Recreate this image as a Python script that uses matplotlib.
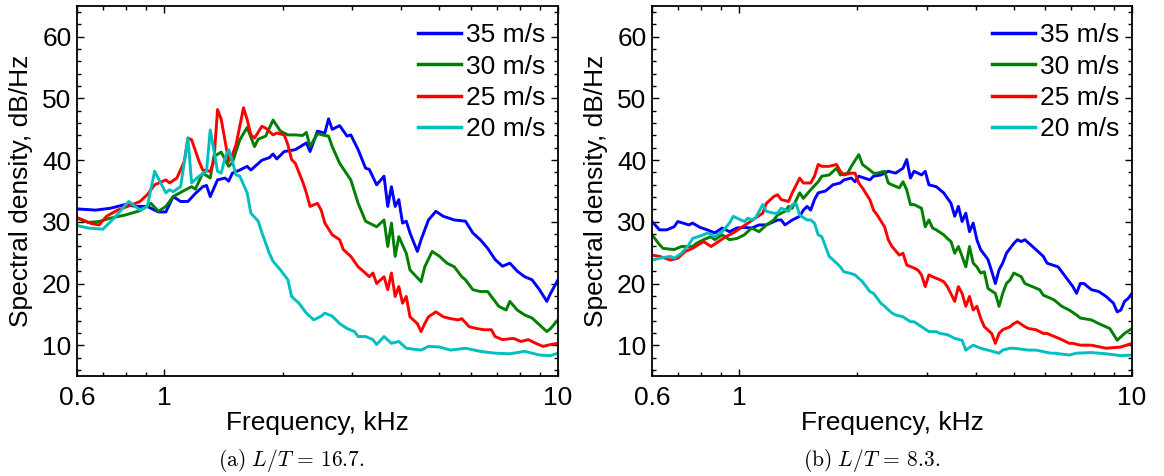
import matplotlib
matplotlib.use("Agg")
import matplotlib.pyplot as plt
from matplotlib.ticker import FixedLocator, NullFormatter, MultipleLocator

plt.rcParams['font.family'] = ['Liberation Sans', 'DejaVu Sans']
plt.rcParams['mathtext.fontset'] = 'cm'

labels = ['35 m/s', '30 m/s', '25 m/s', '20 m/s']
colors = ['#0000ff', '#007f00', '#ff0000', '#00bfbf']

# ---------------- Panel (a)  L/T = 16.7 ----------------
a35_f = [0.600, 0.669, 0.729, 0.795, 0.848, 0.905, 0.966, 1.009, 1.053, 1.100, 1.148, 1.199, 1.252, 1.280,
         1.308, 1.365, 1.426, 1.457, 1.489, 1.555, 1.623, 1.659, 1.770, 1.848, 1.889, 1.930, 2.016, 2.151,
         2.295, 2.345, 2.449, 2.557, 2.613, 2.670, 2.788, 2.912, 2.976, 3.107, 3.245, 3.316, 3.462, 3.615,
         3.694, 3.775, 3.858, 3.942, 4.028, 4.117, 4.207, 4.393, 4.489, 4.687, 4.895, 5.111, 5.454, 5.820,
         6.077, 6.346, 6.627, 6.920, 7.226, 7.545, 7.879, 8.228, 8.592, 8.972, 9.368, 9.573, 10.000]
a35_db = [32.1, 31.9, 32.2, 32.8, 32.5, 32.5, 31.6, 31.6, 34.1, 33.3, 33.3, 34.6, 35.7, 35.9,
          34.1, 36.8, 37.1, 36.6, 37.9, 38.4, 39.0, 38.4, 40.0, 40.4, 41.0, 40.2, 41.4, 41.7,
          42.8, 41.4, 44.7, 44.4, 46.7, 45.0, 45.6, 43.9, 44.1, 41.7, 38.7, 38.5, 36.0, 37.4,
          32.5, 35.7, 32.5, 33.6, 29.8, 30.1, 28.2, 25.2, 27.1, 30.3, 31.7, 30.9, 30.3, 30.1,
          28.2, 27.1, 25.7, 23.9, 22.8, 23.3, 22.0, 21.1, 20.6, 19.0, 17.1, 18.4, 20.6]

a30_f = [0.600, 0.640, 0.683, 0.729, 0.795, 0.867, 0.925, 0.966, 1.009, 1.053, 1.124, 1.173, 1.199, 1.252,
         1.308, 1.336, 1.395, 1.457, 1.489, 1.555, 1.623, 1.695, 1.732, 1.809, 1.889, 1.972, 2.060, 2.151,
         2.246, 2.295, 2.345, 2.449, 2.557, 2.613, 2.670, 2.788, 2.976, 3.107, 3.245, 3.462, 3.615, 3.694,
         3.775, 3.858, 3.942, 4.117, 4.207, 4.489, 4.587, 4.790, 5.002, 5.223, 5.454, 5.695, 5.820, 6.077,
         6.346, 6.627, 6.772, 7.071, 7.384, 7.545, 7.879, 8.228, 8.592, 8.972, 9.368, 9.573, 10.000]
a30_db = [30.6, 29.9, 30.05, 30.6, 31.1, 31.8, 33.0, 31.7, 32.5, 34.1, 35.1, 35.7, 35.3, 37.9,
          37.1, 40.6, 41.3, 39.0, 39.6, 43.3, 45.3, 42.2, 43.4, 43.9, 46.5, 44.7, 44.1, 44.1,
          44.0, 44.5, 42.2, 44.3, 44.0, 43.9, 42.2, 39.5, 36.8, 33.0, 30.1, 29.2, 30.3, 26.0,
          29.8, 24.4, 27.6, 24.9, 22.2, 20.3, 22.7, 25.2, 24.4, 23.3, 22.7, 21.1, 20.6, 19.0,
          18.7, 18.7, 17.9, 16.3, 15.7, 17.1, 15.7, 14.9, 14.4, 13.3, 12.2, 12.7, 14.1]

a25_f = [0.600, 0.654, 0.683, 0.713, 0.761, 0.830, 0.867, 0.905, 0.945, 1.009, 1.031, 1.076, 1.124, 1.148,
         1.173, 1.225, 1.252, 1.308, 1.336, 1.365, 1.395, 1.457, 1.489, 1.521, 1.589, 1.623, 1.659, 1.695,
         1.770, 1.809, 1.889, 1.930, 2.016, 2.060, 2.105, 2.151, 2.246, 2.295, 2.345, 2.449, 2.503, 2.557,
         2.670, 2.788, 2.849, 2.976, 3.107, 3.175, 3.316, 3.388, 3.462, 3.615, 3.694, 3.775, 3.858, 3.942,
         4.028, 4.117, 4.207, 4.393, 4.489, 4.587, 4.687, 4.895, 5.111, 5.337, 5.573, 5.695, 5.947, 6.210,
         6.485, 6.772, 6.920, 7.226, 7.710, 8.051, 8.408, 8.779, 9.168, 9.573, 10.000]
a25_db = [30.7, 29.7, 29.5, 30.9, 31.9, 32.8, 33.3, 34.4, 36.0, 36.8, 36.3, 37.1, 39.8, 43.6,
          43.3, 39.8, 38.4, 38.2, 39.8, 48.2, 46.6, 39.8, 40.9, 42.5, 48.5, 46.6, 44.1, 43.6,
          45.5, 45.2, 44.1, 44.4, 44.1, 42.5, 40.1, 39.5, 36.5, 34.7, 32.5, 33.0, 31.9, 29.8,
          27.9, 27.1, 25.5, 24.4, 22.7, 22.2, 21.1, 21.7, 20.0, 21.1, 19.0, 21.7, 17.9, 19.5,
          16.8, 17.9, 14.6, 13.5, 12.2, 13.5, 14.6, 15.4, 14.6, 14.3, 14.1, 14.3, 13.0, 12.7,
          12.5, 12.5, 11.4, 10.9, 11.1, 10.6, 10.9, 10.3, 9.8, 10.1, 10.3]

a20_f = [0.600, 0.640, 0.698, 0.745, 0.812, 0.867, 0.905, 0.945, 1.009, 1.031, 1.053, 1.100, 1.148, 1.173,
         1.225, 1.280, 1.308, 1.365, 1.395, 1.426, 1.457, 1.489, 1.521, 1.555, 1.623, 1.659, 1.732, 1.770,
         1.848, 1.889, 1.972, 2.060, 2.105, 2.198, 2.295, 2.397, 2.503, 2.557, 2.670, 2.788, 2.912, 3.041,
         3.107, 3.245, 3.388, 3.462, 3.615, 3.775, 3.942, 4.117, 4.489, 4.687, 5.002, 5.337, 5.820, 6.346,
         6.920, 7.545, 8.228, 8.972, 9.573, 10.000]
a20_db = [29.4, 29.0, 28.8, 30.6, 33.3, 31.9, 32.5, 38.2, 34.7, 35.2, 34.9, 35.7, 43.6, 36.3,
          37.4, 38.2, 44.9, 38.2, 37.9, 40.4, 41.7, 39.8, 37.6, 37.4, 34.7, 31.4, 30.1, 28.2,
          24.9, 23.6, 22.2, 20.6, 17.9, 16.8, 15.2, 14.1, 14.7, 15.2, 14.7, 13.5, 12.7, 12.2,
          11.4, 11.4, 10.9, 10.1, 11.4, 10.3, 10.6, 9.5, 9.2, 9.8, 9.7, 9.2, 9.5, 9.0,
          8.7, 8.6, 9.0, 8.4, 8.3, 8.7]

# ---------------- Panel (b)  L/T = 8.3 ----------------
b35_f = [0.600, 0.627, 0.654, 0.683, 0.698, 0.745, 0.761, 0.795, 0.830, 0.867, 0.905, 0.945, 0.987, 1.031,
         1.076, 1.124, 1.173, 1.252, 1.280, 1.308, 1.365, 1.426, 1.457, 1.489, 1.521, 1.555, 1.589, 1.659,
         1.732, 1.809, 1.848, 1.930, 1.972, 2.016, 2.151, 2.198, 2.295, 2.397, 2.503, 2.613, 2.670, 2.729,
         2.788, 2.912, 2.976, 3.041, 3.175, 3.316, 3.462, 3.538, 3.615, 3.694, 3.775, 3.858, 3.942, 4.028,
         4.117, 4.299, 4.393, 4.489, 4.587, 4.687, 4.790, 5.002, 5.111, 5.223, 5.337, 5.695, 5.947, 6.077,
         6.210, 6.485, 6.627, 6.772, 6.920, 7.071, 7.226, 7.384, 7.545, 7.879, 8.228, 8.592, 8.972, 9.168,
         9.368, 9.573, 9.783, 10.000]
b35_db = [30.05, 28.7, 28.7, 29.2, 30.05, 29.5, 29.8, 29.1, 28.7, 28.2, 29.0, 28.4, 29.0, 29.1,
          29.0, 29.5, 29.5, 30.3, 30.3, 29.5, 30.3, 30.9, 31.9, 32.5, 31.9, 33.6, 34.7, 35.0,
          36.0, 36.3, 36.8, 37.1, 36.5, 37.4, 36.8, 37.4, 37.6, 38.2, 37.9, 38.7, 40.1, 37.1,
          38.2, 37.6, 38.2, 36.0, 35.7, 34.7, 33.0, 30.9, 32.5, 30.05, 31.4, 28.4, 29.8, 27.1,
          25.5, 23.9, 22.0, 20.0, 22.2, 23.3, 24.9, 26.5, 27.1, 26.8, 27.1, 25.5, 24.4, 23.3,
          23.1, 22.7, 21.9, 21.1, 20.3, 19.5, 18.4, 20.0, 20.0, 19.0, 18.7, 17.9, 16.8, 15.4,
          15.7, 17.1, 17.6, 18.4]

b30_f = [0.600, 0.627, 0.640, 0.683, 0.713, 0.761, 0.778, 0.812, 0.848, 0.867, 0.905, 0.945, 0.987, 1.031,
         1.076, 1.124, 1.173, 1.225, 1.252, 1.308, 1.336, 1.365, 1.426, 1.457, 1.521, 1.589, 1.623, 1.695,
         1.770, 1.809, 1.889, 1.930, 2.016, 2.060, 2.151, 2.198, 2.246, 2.345, 2.397, 2.449, 2.557, 2.613,
         2.670, 2.729, 2.788, 2.912, 2.976, 3.041, 3.107, 3.175, 3.316, 3.388, 3.462, 3.538, 3.615, 3.694,
         3.775, 3.858, 3.942, 4.028, 4.117, 4.207, 4.299, 4.489, 4.587, 4.687, 4.790, 4.895, 5.002, 5.223,
         5.337, 5.573, 5.820, 5.947, 6.210, 6.346, 6.627, 6.920, 7.226, 7.384, 7.879, 8.228, 8.779, 9.168,
         9.573, 10.000]
b30_db = [27.9, 26.3, 25.7, 25.5, 26.0, 26.0, 26.5, 27.1, 27.6, 27.1, 27.9, 27.1, 27.3, 27.9,
          29.0, 28.4, 29.5, 30.3, 31.1, 31.7, 32.5, 32.2, 34.7, 33.8, 35.2, 36.5, 37.4, 37.6,
          38.7, 37.6, 37.9, 39.0, 40.9, 39.3, 38.4, 37.9, 37.9, 38.2, 36.3, 36.0, 35.5, 36.5,
          35.2, 32.8, 32.8, 32.2, 29.2, 30.3, 29.0, 28.7, 27.9, 27.3, 26.8, 24.9, 26.0, 24.4,
          22.7, 26.0, 23.3, 22.7, 21.7, 21.9, 19.2, 18.4, 16.3, 18.4, 20.0, 20.6, 21.7, 21.1,
          20.0, 19.5, 19.0, 18.1, 17.6, 17.3, 16.3, 15.7, 14.9, 14.4, 14.1, 13.5, 12.7, 10.8,
          11.9, 12.7]

b25_f = [0.600, 0.627, 0.669, 0.698, 0.729, 0.761, 0.812, 0.848, 0.886, 0.925, 0.966, 1.009, 1.053, 1.100,
         1.148, 1.173, 1.225, 1.252, 1.280, 1.336, 1.365, 1.426, 1.457, 1.521, 1.555, 1.589, 1.623, 1.695,
         1.770, 1.809, 1.848, 1.930, 1.972, 2.016, 2.060, 2.151, 2.198, 2.246, 2.345, 2.397, 2.449, 2.557,
         2.613, 2.670, 2.788, 2.849, 2.912, 2.976, 3.041, 3.107, 3.245, 3.316, 3.388, 3.538, 3.615, 3.694,
         3.775, 3.858, 3.942, 4.028, 4.117, 4.207, 4.393, 4.489, 4.587, 4.687, 4.895, 5.002, 5.111, 5.337,
         5.454, 5.695, 5.947, 6.077, 6.346, 6.627, 6.920, 7.071, 7.384, 7.879, 8.592, 9.368, 10.000]
b25_db = [24.6, 24.4, 23.8, 24.1, 25.2, 25.7, 26.8, 26.0, 26.8, 27.6, 28.2, 29.0, 29.8, 30.6,
          31.4, 33.0, 34.1, 34.4, 33.6, 33.3, 34.7, 37.1, 36.3, 36.3, 37.4, 39.3, 39.0, 39.0,
          39.3, 38.2, 37.6, 37.9, 37.9, 36.3, 35.5, 33.6, 31.9, 31.1, 29.2, 27.1, 26.0, 24.6,
          24.9, 23.0, 22.5, 22.2, 21.4, 19.5, 21.4, 21.1, 20.6, 20.3, 19.5, 17.1, 19.5, 18.4,
          16.3, 17.9, 15.7, 16.3, 14.4, 13.0, 11.9, 10.3, 11.9, 12.5, 13.0, 13.5, 13.8, 13.0,
          12.7, 12.5, 11.9, 11.9, 11.4, 10.9, 10.3, 10.3, 10.0, 10.0, 9.5, 9.7, 10.3]

b20_f = [0.600, 0.627, 0.669, 0.683, 0.713, 0.745, 0.761, 0.812, 0.830, 0.867, 0.905, 0.945, 0.966, 0.987,
         1.031, 1.053, 1.076, 1.100, 1.148, 1.173, 1.225, 1.252, 1.280, 1.336, 1.365, 1.395, 1.426, 1.489,
         1.521, 1.555, 1.589, 1.623, 1.659, 1.695, 1.770, 1.809, 1.848, 1.930, 1.972, 2.060, 2.151, 2.198,
         2.295, 2.345, 2.449, 2.503, 2.613, 2.729, 2.788, 2.912, 3.041, 3.175, 3.245, 3.388, 3.538, 3.694,
         3.775, 3.942, 4.117, 4.299, 4.587, 4.687, 4.895, 5.002, 5.454, 5.695, 6.210, 6.346, 6.920, 7.226,
         7.879, 8.592, 9.368, 10.000]
b20_db = [23.8, 24.1, 24.4, 24.1, 24.9, 26.3, 27.3, 27.9, 28.2, 27.6, 28.4, 29.8, 30.9, 30.6,
          30.05, 30.6, 30.3, 30.6, 32.8, 31.7, 31.4, 31.4, 32.2, 31.7, 32.8, 33.0, 31.1, 30.3,
          30.3, 29.8, 27.9, 27.6, 26.0, 24.4, 23.3, 22.7, 21.9, 21.6, 21.4, 20.3, 18.7, 18.4,
          16.8, 16.3, 15.2, 14.9, 14.6, 13.8, 13.8, 13.0, 12.2, 12.2, 11.9, 11.7, 11.1, 10.8,
          9.2, 10.0, 9.5, 9.2, 8.7, 9.2, 9.5, 9.5, 9.2, 9.2, 8.7, 8.7, 8.4, 8.7,
          8.8, 8.6, 8.3, 8.4]

panels = [
    ([(a35_f, a35_db), (a30_f, a30_db), (a25_f, a25_db), (a20_f, a20_db)],
     r'$\mathrm{(a)}\ L/T\,=\,16.7.$'),
    ([(b35_f, b35_db), (b30_f, b30_db), (b25_f, b25_db), (b20_f, b20_db)],
     r'$\mathrm{(b)}\ L/T\,=\,8.3.$'),
]

xticks = [0.6, 1, 10]
xtick_labels = ['0.6', '1', '10']
yticks = [10, 20, 30, 40, 50, 60]

fig = plt.figure(figsize=(11.64, 4.76), dpi=100)
ax_rects = [[77 / 1164, 100 / 476, 481 / 1164, 370 / 476],
            [652 / 1164, 100 / 476, 480 / 1164, 370 / 476]]
cap_x = [291 / 1164, 872 / 1164]
FS = 19

for (series, caption), rect, cx in zip(panels, ax_rects, cap_x):
    ax = fig.add_axes(rect)
    for (f, db), c, lab in zip(series, colors, labels):
        ax.plot(f, db, color=c, lw=2.1, label=lab, solid_joinstyle='round')
    ax.set_xscale('log')
    ax.set_xlim(0.6, 10)
    ax.set_ylim(5, 65)
    ax.xaxis.set_major_locator(FixedLocator(xticks))
    ax.set_xticklabels(xtick_labels)
    ax.xaxis.set_minor_locator(FixedLocator([0.7, 0.8, 0.9, 2, 3, 4, 5, 6, 7, 8, 9]))
    ax.xaxis.set_minor_formatter(NullFormatter())
    ax.set_yticks(yticks)
    ax.yaxis.set_minor_locator(MultipleLocator(2))
    ax.tick_params(which='both', direction='in', top=True, right=True, labelsize=FS, width=1.0)
    ax.tick_params(which='major', length=5)
    ax.tick_params(which='minor', length=3)
    ax.tick_params(axis='x', which='major', pad=7)
    ax.tick_params(axis='y', which='major', pad=4)
    for s in ax.spines.values():
        s.set_linewidth(1.3)
    ax.set_xlabel('Frequency, kHz', fontsize=FS)
    ax.set_ylabel('Spectral density, dB/Hz', fontsize=FS)
    ax.xaxis.set_label_coords(0.5, -0.095)
    ax.yaxis.set_label_coords(-0.092, 0.5)
    leg = ax.legend(loc='upper right', bbox_to_anchor=(1.01, 1.0), frameon=False, fontsize=FS,
                    handlelength=1.63, handletextpad=0.2, labelspacing=0.28,
                    borderaxespad=0.45, borderpad=0.2)
    for line in leg.get_lines():
        line.set_linewidth(2.5)
    fig.text(cx, 1 - 461 / 476, caption, ha='center', va='center', fontsize=15.5)

fig.savefig('out.png', dpi=100)
